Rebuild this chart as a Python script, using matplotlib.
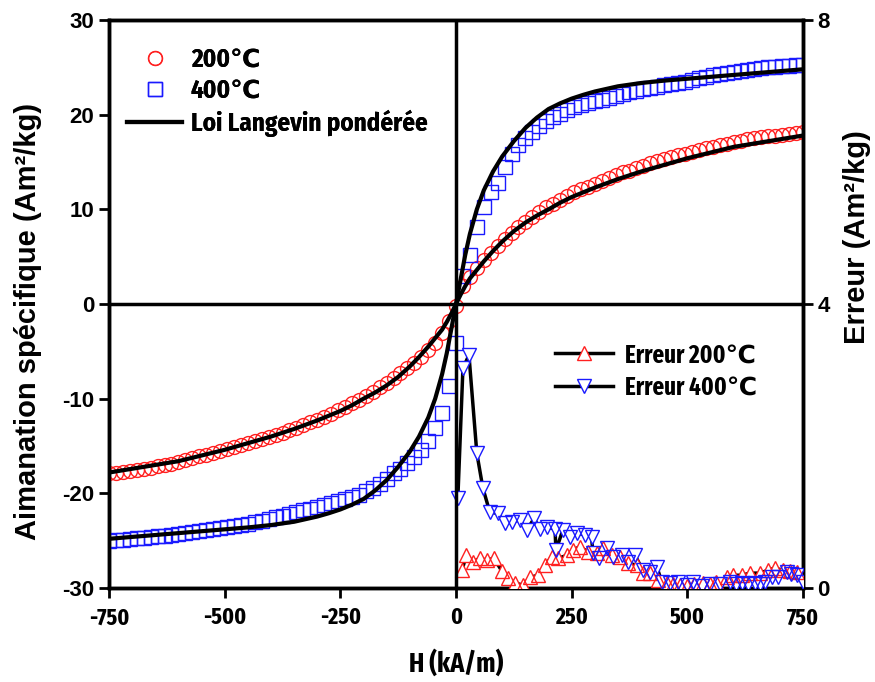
import matplotlib.pyplot as plt
from matplotlib.lines import Line2D
from matplotlib.font_manager import FontProperties

plt.rcParams['font.family'] = ['Liberation Sans', 'DejaVu Sans']
plt.rcParams['font.weight'] = 'bold'
plt.rcParams['axes.unicode_minus'] = False

cond = ['Fira Sans Condensed', 'DejaVu Sans']
xcond = ['Fira Sans Extra Condensed', 'DejaVu Sans']

# measured data, H step 15 kA/m
H = list(range(-750, 751, 15))
m200 = [-17.9, -17.8, -17.7, -17.6, -17.5, -17.4, -17.3, -17.1, -17.0, -16.9,
        -16.7, -16.5, -16.3, -16.1, -15.9, -15.7, -15.5, -15.3, -15.1, -14.9,
        -14.7, -14.5, -14.3, -14.0, -13.8, -13.6, -13.3, -13.1, -12.8, -12.5,
        -12.2, -11.9, -11.6, -11.2, -10.9, -10.5, -10.1, -9.7, -9.3, -8.8,
        -8.3, -7.8, -7.3, -6.8, -6.2, -5.6, -4.9, -4.1, -3.1, -1.8,
        -0.2,
        1.9, 2.9, 3.8, 4.7, 5.4, 6.1, 6.9, 7.5, 8.1, 8.7,
        9.2, 9.7, 10.2, 10.6, 11.0, 11.4, 11.8, 12.1, 12.4, 12.7,
        13.0, 13.3, 13.6, 13.9, 14.1, 14.4, 14.6, 14.9, 15.1, 15.3,
        15.5, 15.7, 15.9, 16.1, 16.3, 16.5, 16.6, 16.8, 16.9, 17.1,
        17.2, 17.4, 17.5, 17.6, 17.7, 17.8, 17.9, 18.0, 18.1, 18.2]
m400 = [-25.0, -24.9, -24.9, -24.8, -24.7, -24.7, -24.6, -24.5, -24.5, -24.4,
        -24.3, -24.2, -24.1, -24.0, -23.9, -23.8, -23.7, -23.6, -23.4, -23.3,
        -23.2, -23.0, -22.9, -22.7, -22.5, -22.4, -22.2, -22.0, -21.8, -21.6,
        -21.4, -21.2, -21.0, -20.8, -20.6, -20.4, -20.2, -19.8, -19.4, -19.0,
        -18.5, -17.9, -17.4, -16.8, -16.2, -15.4, -14.5, -13.1, -11.5, -8.7,
        -4.1,
        3.0, 5.2, 8.1, 10.3, 11.8, 12.8, 14.5, 15.8, 16.8, 17.5,
        18.2, 18.8, 19.3, 19.8, 20.1, 20.5, 20.8, 21.0, 21.2, 21.4,
        21.6, 21.8, 22.0, 22.2, 22.4, 22.5, 22.7, 22.8, 22.9, 23.1,
        23.2, 23.3, 23.5, 23.7, 23.9, 24.0, 24.2, 24.3, 24.4, 24.5,
        24.6, 24.7, 24.8, 24.9, 25.0, 25.0, 25.1, 25.1, 25.2, 25.3]

# weighted Langevin fit
H_fit = [-750, -700, -650, -600, -550, -500, -450, -400, -350, -300, -275, -250, -225, -200,
         -175, -150, -125, -100, -80, -60, -45, -30, -20, -10, -5, 0,
         5, 10, 20, 30, 45, 60, 80, 100, 125, 150, 175,
         200, 225, 250, 275, 300, 350, 400, 450, 500, 550, 600, 650, 700, 750]
fit200 = [-17.8, -17.4, -17.0, -16.6, -16.0, -15.4, -14.7, -14.0, -13.2, -12.3, -11.8, -11.3, -10.7, -10.0,
          -9.35, -8.6, -7.7, -6.6, -5.6, -4.5, -3.6, -2.7, -1.9, -1.0, -0.5, 0.0,
          0.5, 1.0, 1.9, 2.7, 3.6, 4.5, 5.6, 6.6, 7.7, 8.6, 9.35,
          10.0, 10.7, 11.3, 11.8, 12.3, 13.2, 14.0, 14.7, 15.4, 16.0, 16.6, 17.0, 17.4, 17.8]
fit400 = [-24.8, -24.6, -24.4, -24.2, -24.0, -23.8, -23.6, -23.35, -23.0, -22.45, -22.1, -21.7, -21.2, -20.6,
          -19.7, -18.6, -17.2, -15.6, -14.0, -12.0, -10.0, -7.4, -5.2, -2.6, -1.3, 0.0,
          1.3, 2.6, 5.2, 7.4, 10.0, 12.0, 14.0, 15.6, 17.2, 18.6, 19.7,
          20.6, 21.2, 21.7, 22.1, 22.45, 23.0, 23.35, 23.6, 23.8, 24.0, 24.2, 24.4, 24.6, 24.8]

# fit error
H_err200 = [13, 22, 37, 52, 67, 82, 99, 113, 128, 145, 160, 177, 192, 207, 221, 240,
            253, 268, 285, 304, 318, 337, 354, 372, 391, 404, 419, 437, 456, 470,
            485, 500, 515, 534, 548, 563, 585, 599, 618, 635, 657, 674, 689, 707,
            722, 737]
err200 = [0.25, 0.46, 0.37, 0.42, 0.39, 0.42, 0.24, 0.14, 0.07, 0.04, 0.15, 0.18,
          0.32, 0.44, 0.42, 0.46, 0.54, 0.58, 0.51, 0.49, 0.56, 0.46, 0.44, 0.35,
          0.32, 0.21, 0.21, 0.11, 0.07, 0.05, 0.04, 0.03, 0.05, 0.07, 0.05, 0.08,
          0.15, 0.18, 0.18, 0.21, 0.21, 0.25, 0.28, 0.25, 0.24, 0.23]
H_err400 = [4, 15, 28, 45, 58, 73, 91, 106, 121, 138, 153, 169, 181, 196, 214, 216,
            231, 246, 261, 279, 293, 296, 309, 326, 340, 358, 372, 387, 404, 419,
            434, 445, 462, 480, 499, 512, 531, 550, 570, 592, 605, 618, 632, 646,
            657, 668, 683, 696, 715, 725, 737, 750]
err400 = [1.27, 3.10, 3.28, 1.90, 1.41, 1.07, 1.05, 0.91, 0.93, 0.96, 0.82, 0.98,
          0.83, 0.86, 0.83, 0.53, 0.82, 0.72, 0.77, 0.75, 0.72, 0.49, 0.42, 0.56,
          0.44, 0.46, 0.37, 0.46, 0.25, 0.23, 0.30, 0.08, 0.07, 0.08, 0.04, 0.08,
          0.03, 0.05, 0.06, 0.08, 0.05, 0.07, 0.05, 0.07, 0.06, 0.08, 0.15, 0.15,
          0.23, 0.20, 0.18, 0.08]

xticks = [-750, -500, -250, 0, 250, 500, 750]
yticks = [-30, -20, -10, 0, 10, 20, 30]
yticks_err = [0, 4, 8]

fig = plt.figure(figsize=(8.75, 6.82), dpi=100)
ax = fig.add_axes([0.1246, 0.1378, 0.7931, 0.8328])
ax2 = ax.twinx()

ms = 10
red, blue = '#ff2020', '#1a1aff'
ax.plot(H, m200, 'o', ms=ms, mfc='none', mec=red, mew=1, zorder=3)
ax.plot(H, m400, 's', ms=ms, mfc='none', mec=blue, mew=1, zorder=3)
ax.plot(H_fit, fit200, '-', color='black', lw=3, zorder=4)
ax.plot(H_fit, fit400, '-', color='black', lw=3, zorder=4)
ax.axhline(0, color='black', lw=2.5, zorder=5)

# error curves: line, white masks, then open markers on top
ax2.plot(H_err200, err200, '-', color='black', lw=2.5, zorder=2)
ax2.plot(H_err400, err400, '-', color='black', lw=2.5, zorder=2)
ax2.plot(H_err200, err200, '^', ms=ms, mfc='white', mec='none', zorder=3)
ax2.plot(H_err400, err400, 'v', ms=ms, mfc='white', mec='none', zorder=3)
ax2.plot(H_err200, err200, '^', ms=ms, mfc='none', mec=red, mew=1, zorder=4)
ax2.plot(H_err400, err400, 'v', ms=ms, mfc='none', mec=blue, mew=1, zorder=4)
ax2.axvline(0, color='black', lw=2.5, zorder=5)

ax.set_xlim(-750, 750)
ax.set_ylim(-30, 30)
ax2.set_ylim(0, 8)
ax.set_xticks(xticks)
ax.set_yticks(yticks)
ax2.set_yticks(yticks_err)

for a in (ax, ax2):
    for s in a.spines.values():
        s.set_linewidth(2.5)
    a.tick_params(direction='out', length=7, width=2)
    a.tick_params(axis='y', labelsize=16)
ax.tick_params(axis='x', pad=6, labelsize=17, labelfontfamily=xcond)

ax.set_xlabel('H (kA/m)', fontsize=20, fontweight='bold', family=xcond, labelpad=15)
ax.set_ylabel('Aimanation spécifique (Am²/kg)', fontsize=21, fontweight='bold')
ax.yaxis.set_label_coords(-0.097, 0.47)
ax2.set_ylabel('Erreur (Am²/kg)', fontsize=21, fontweight='bold')
ax2.yaxis.set_label_coords(1.058, 0.618)

h1 = [Line2D([], [], ls='none', marker='o', ms=ms, mfc='none', mec=red),
      Line2D([], [], ls='none', marker='s', ms=ms, mfc='none', mec=blue),
      Line2D([], [], color='black', lw=3)]
leg1 = ax.legend(h1, ['200℃', '400℃', 'Loi Langevin pondérée'], loc='upper left',
                 bbox_to_anchor=(0.026, 0.952), frameon=False,
                 prop=FontProperties(family=cond, weight='bold', size=18),
                 borderpad=0, borderaxespad=0,
                 handlelength=2.2, labelspacing=0.25, handletextpad=0.35)
ax.add_artist(leg1)

h2 = [Line2D([], [], color='black', lw=2.5, marker='^', ms=ms, mfc='white', mec=red),
      Line2D([], [], color='black', lw=2.5, marker='v', ms=ms, mfc='white', mec=blue)]
ax2.legend(h2, ['Erreur 200℃', 'Erreur 400℃'], loc='upper left',
           bbox_to_anchor=(0.643, 0.432), frameon=False, numpoints=1,
           prop=FontProperties(family=xcond, weight='bold', size=18),
           borderpad=0, borderaxespad=0,
           handlelength=2.3, labelspacing=0.3, handletextpad=0.5)

fig.savefig('out.png', dpi=100)
